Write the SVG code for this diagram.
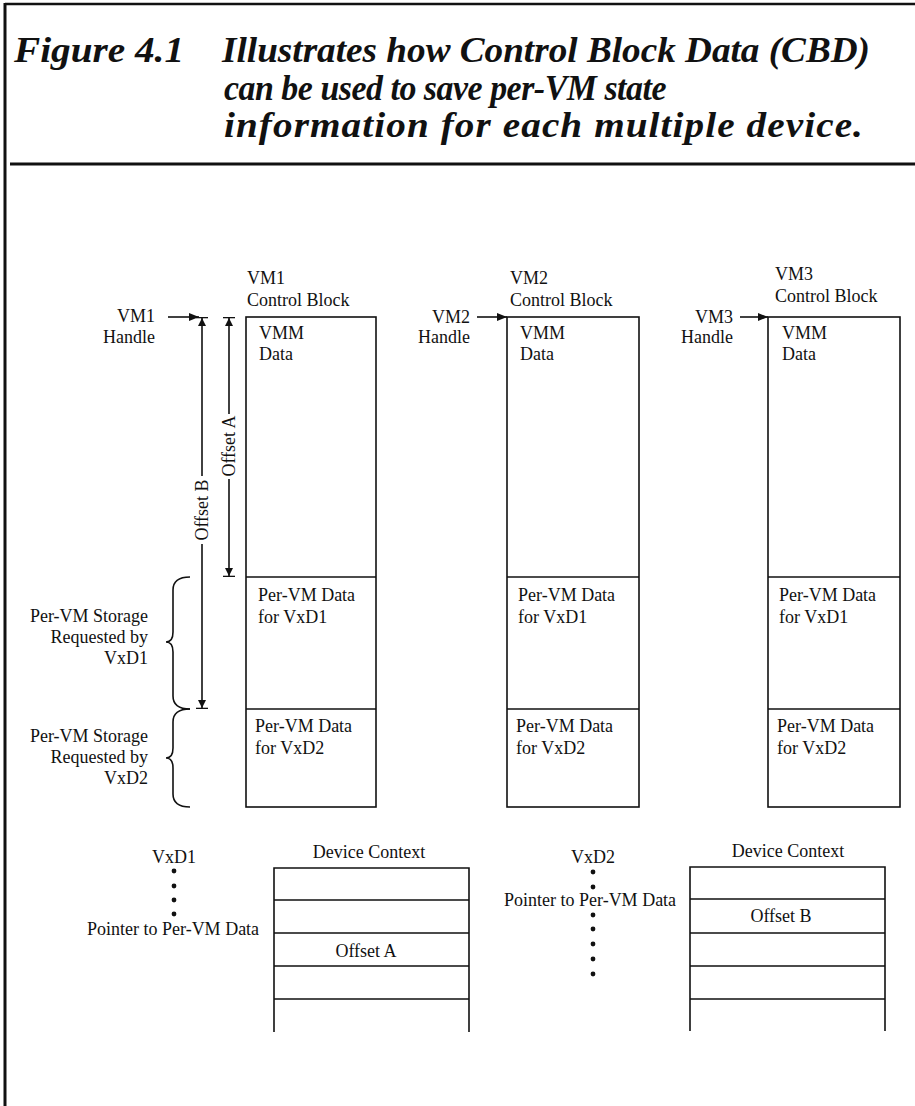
<svg xmlns="http://www.w3.org/2000/svg" width="915" height="1106" viewBox="0 0 915 1106">
<style>
  .t { font-family: "Liberation Serif", "Times New Roman", serif; font-size: 18px; fill: #111; }
  .ttl { font-family: "Liberation Serif", "Times New Roman", serif; font-size: 36px; font-weight: bold; font-style: italic; fill: #111; }
  .box { fill: none; stroke: #111; stroke-width: 1.6; }
  .ln { fill: none; stroke: #111; stroke-width: 1.6; }
  .end { text-anchor: end; }
  .mid { text-anchor: middle; }
</style>
<defs>
  <marker id="arr" viewBox="0 0 10 8" refX="10" refY="4" markerWidth="10" markerHeight="8" markerUnits="userSpaceOnUse" orient="auto">
    <path d="M0,0 L10,4 L0,8 z" fill="#111"/>
  </marker>
  <marker id="tbar" viewBox="0 0 10 12" refX="10" refY="6" markerWidth="10" markerHeight="12" markerUnits="userSpaceOnUse" orient="auto-start-reverse">
    <path d="M1,2 L9,6 L1,10 z" fill="#111"/>
    <line x1="9.5" y1="0" x2="9.5" y2="12" stroke="#111" stroke-width="1.6"/>
  </marker>
</defs>
<rect x="0" y="0" width="915" height="1106" fill="#fff"/>
<g id="frame">
  <line x1="5" y1="4" x2="915" y2="4" stroke="#111" stroke-width="2.5"/>
  <line x1="5" y1="3" x2="5" y2="1106" stroke="#111" stroke-width="3"/>
  <line x1="10" y1="164" x2="915" y2="164" stroke="#111" stroke-width="3"/>
</g>
<g id="title">
  <text class="ttl" x="14" y="62" textLength="170" lengthAdjust="spacingAndGlyphs">Figure 4.1</text>
  <text class="ttl" x="222" y="62" textLength="648" lengthAdjust="spacingAndGlyphs">Illustrates how Control Block Data (CBD)</text>
  <text class="ttl" x="224" y="100" letter-spacing="-0.5" textLength="442" lengthAdjust="spacingAndGlyphs">can be used to save per-VM state</text>
  <text class="ttl" x="224" y="137" letter-spacing="1" textLength="640" lengthAdjust="spacingAndGlyphs">information for each multiple device.</text>
</g>
<g id="vm1-block">
  <text class="t" x="247" y="284">VM1</text>
  <text class="t" x="247" y="306">Control Block</text>
  <rect class="box" x="246" y="317" width="130" height="490"/>
  <line class="ln" x1="246" y1="577" x2="376" y2="577"/>
  <line class="ln" x1="246" y1="709" x2="376" y2="709"/>
  <text class="t" x="259" y="339">VMM</text>
  <text class="t" x="259" y="360">Data</text>
  <text class="t" x="258" y="601">Per-VM Data</text>
  <text class="t" x="258" y="623">for VxD1</text>
  <text class="t" x="255" y="732">Per-VM Data</text>
  <text class="t" x="255" y="754">for VxD2</text>
</g>
<g id="vm2-block">
  <text class="t" x="510" y="284">VM2</text>
  <text class="t" x="510" y="306">Control Block</text>
  <rect class="box" x="507" y="317" width="132" height="490"/>
  <line class="ln" x1="507" y1="577" x2="639" y2="577"/>
  <line class="ln" x1="507" y1="709" x2="639" y2="709"/>
  <text class="t" x="520" y="339">VMM</text>
  <text class="t" x="520" y="360">Data</text>
  <text class="t" x="518" y="601">Per-VM Data</text>
  <text class="t" x="518" y="623">for VxD1</text>
  <text class="t" x="516" y="732">Per-VM Data</text>
  <text class="t" x="516" y="754">for VxD2</text>
</g>
<g id="vm3-block">
  <text class="t" x="775" y="280">VM3</text>
  <text class="t" x="775" y="302">Control Block</text>
  <rect class="box" x="768" y="317" width="132" height="490"/>
  <line class="ln" x1="768" y1="577" x2="900" y2="577"/>
  <line class="ln" x1="768" y1="709" x2="900" y2="709"/>
  <text class="t" x="782" y="339">VMM</text>
  <text class="t" x="782" y="360">Data</text>
  <text class="t" x="779" y="601">Per-VM Data</text>
  <text class="t" x="779" y="623">for VxD1</text>
  <text class="t" x="777" y="732">Per-VM Data</text>
  <text class="t" x="777" y="754">for VxD2</text>
</g>
<g id="vm1-handle">
  <text class="t end" x="155" y="322">VM1</text>
  <text class="t end" x="155" y="343">Handle</text>
</g>
<g id="vm2-handle">
  <text class="t end" x="470" y="323">VM2</text>
  <text class="t end" x="470" y="343">Handle</text>
</g>
<g id="vm3-handle">
  <text class="t end" x="733" y="323">VM3</text>
  <text class="t end" x="733" y="343">Handle</text>
</g>
<g id="offset-labels">
  <text class="t mid" transform="translate(235,446) rotate(-90)">Offset A</text>
  <text class="t mid" transform="translate(208,510) rotate(-90)">Offset B</text>
</g>
<g id="storage-vxd1">
  <path class="ln" d="M190,577 Q173,577 173,590 L173,632 Q173,642 166,642 Q173,642 173,652 L173,696 Q173,709 190,709"/>
  <text class="t end" x="148" y="622">Per-VM Storage</text>
  <text class="t end" x="148" y="643">Requested by</text>
  <text class="t end" x="148" y="664">VxD1</text>
</g>
<g id="storage-vxd2">
  <path class="ln" d="M190,709 Q173,709 173,722 L173,748 Q173,758 166,758 Q173,758 173,768 L173,794 Q173,807 190,807"/>
  <text class="t end" x="148" y="742">Per-VM Storage</text>
  <text class="t end" x="148" y="763">Requested by</text>
  <text class="t end" x="148" y="784">VxD2</text>
</g>
<g id="vxd1">
  <text class="t mid" x="174" y="863">VxD1</text>
  <circle cx="174" cy="871" r="2.4" fill="#111"/>
  <circle cx="174" cy="886" r="2.4" fill="#111"/>
  <circle cx="174" cy="900" r="2.4" fill="#111"/>
  <circle cx="174" cy="914" r="2.4" fill="#111"/>
  <text class="t" x="87" y="935">Pointer to Per-VM Data</text>
</g>
<g id="device-context-1">
  <text class="t mid" x="369" y="858">Device Context</text>
  <path class="ln" d="M274,1032 L274,868 L469,868 L469,1032 M274,900 L469,900 M274,933 L469,933 M274,966 L469,966 M274,999 L469,999"/>
  <text class="t mid" x="366" y="957">Offset A</text>
</g>
<g id="vxd2">
  <text class="t mid" x="593" y="863">VxD2</text>
  <circle cx="593" cy="872" r="2.4" fill="#111"/>
  <circle cx="593" cy="887" r="2.4" fill="#111"/>
  <text class="t" x="504" y="906">Pointer to Per-VM Data</text>
  <circle cx="593" cy="915" r="2.4" fill="#111"/>
  <circle cx="593" cy="929" r="2.4" fill="#111"/>
  <circle cx="593" cy="944" r="2.4" fill="#111"/>
  <circle cx="593" cy="959" r="2.4" fill="#111"/>
  <circle cx="593" cy="974" r="2.4" fill="#111"/>
</g>
<g id="device-context-2">
  <text class="t mid" x="788" y="857">Device Context</text>
  <path class="ln" d="M690,1031 L690,867 L885,867 L885,1031 M690,899 L885,899 M690,933 L885,933 M690,966 L885,966 M690,999 L885,999"/>
  <text class="t mid" x="781" y="922">Offset B</text>
</g>
<g id="connectors">
  <line class="ln" x1="168" y1="317" x2="199" y2="317" marker-end="url(#arr)"/>
  <line class="ln" x1="477" y1="317" x2="507" y2="317" marker-end="url(#arr)"/>
  <line class="ln" x1="740" y1="317" x2="768" y2="317" marker-end="url(#arr)"/>
  <line class="ln" x1="229" y1="414" x2="229" y2="317" marker-end="url(#tbar)"/>
  <line class="ln" x1="229" y1="479" x2="229" y2="577" marker-end="url(#tbar)"/>
  <line class="ln" x1="202" y1="476" x2="202" y2="317" marker-end="url(#tbar)"/>
  <line class="ln" x1="202" y1="544" x2="202" y2="709" marker-end="url(#tbar)"/>
</g>
</svg>
